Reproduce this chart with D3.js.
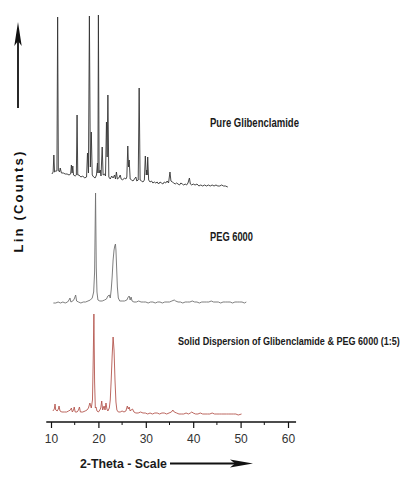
<!DOCTYPE html>
<html>
<head>
<meta charset="utf-8">
<script src="https://cdn.jsdelivr.net/npm/d3@7"></script>
<style>
  html, body { margin: 0; padding: 0; background: #fff; }
  svg { display: block; }
</style>
</head>
<body>
<svg id="chart" width="412" height="479"></svg>
<script>
// ---------------- DATA ----------------
const seriesNames = ["Pure Glibenclamide", "PEG 6000", "Solid Dispersion of Glibenclamide & PEG 6000 (1:5)"];
// vertical stacking offsets (counts) for each pattern
const seriesOffsets = [235, 110, 0];
const xTickValues = [10, 20, 30, 40, 50, 60];
const xMinorTickValues = [15, 25, 35, 45, 55];
const xTitle = "2-Theta - Scale";
const yTitle = "Lin (Counts)";

// [2-theta, counts]
const pureData = [
[10.2,13],[10.45,15],[10.6,32],[10.75,15],[11.0,16],[11.25,16],[11.4,170],[11.55,17],[11.8,15],[11.95,19],[12.2,14],[12.6,14],[13.0,13],[13.4,13],[13.8,12],[14.15,13],[14.3,22],[14.45,14],[14.6,21],[14.75,12],[15.1,11],[15.35,12],[15.5,72],[15.65,12],[15.9,12],[16.3,10],[16.7,11],[17.1,9],[17.5,10],[17.7,34],[17.9,14],[18.1,171],[18.3,20],[18.5,55],[18.7,12],[19.0,10],[19.3,9],[19.6,12],[19.8,24],[19.9,14],[20.0,172],[20.15,14],[20.4,17],[20.55,11],[20.8,40],[21.0,12],[21.3,13],[21.5,11],[21.7,65],[21.85,30],[22.0,92],[22.2,10],[22.5,8],[22.8,11],[23.1,9],[23.4,12],[23.6,8],[23.8,15],[24.0,8],[24.3,9],[24.6,12],[24.8,8],[25.1,7],[25.5,9],[25.8,8],[26.0,10],[26.2,41],[26.35,20],[26.5,27],[26.7,8],[27.0,7],[27.3,6],[27.6,8],[27.9,10],[28.1,6],[28.4,7],[28.6,99],[28.8,7],[29.1,6],[29.4,5],[29.7,7],[29.9,31],[30.1,12],[30.2,17],[30.3,12],[30.4,30],[30.6,7],[30.9,5],[31.2,6],[31.5,4],[31.8,5],[32.1,4],[32.4,5],[32.7,3],[33.0,5],[33.3,4],[33.6,3],[33.9,5],[34.2,4],[34.5,6],[34.8,4],[35.1,15],[35.3,6],[35.6,5],[35.9,4],[36.2,3],[36.5,4],[36.8,3],[37.1,2],[37.4,4],[37.7,3],[38.0,2],[38.3,3],[38.6,2],[38.9,4],[39.2,9],[39.4,3],[39.7,2],[40.0,3],[40.4,2],[40.8,3],[41.2,1],[41.6,2],[42.0,1],[42.4,2],[42.8,1],[43.2,2],[43.6,1],[44.0,2],[44.4,1],[44.8,2],[45.2,1],[45.6,1],[46.0,2],[46.4,1],[46.8,1],[47.3,0]
];

const pegData = [
[10.5,9],[11.0,9],[11.5,10],[12.0,9],[12.5,10],[13.0,9],[13.5,10],[13.8,12],[14.0,14],[14.2,10],[14.6,11],[14.9,13],[15.2,17],[15.4,11],[15.8,10],[16.3,9],[16.8,10],[17.3,10],[17.8,11],[18.3,12],[18.7,14],[19.0,20],[19.2,40],[19.4,119],[19.55,45],[19.7,20],[19.9,12],[20.3,11],[20.8,11],[21.3,12],[21.7,13],[22.0,16],[22.3,17],[22.5,14],[22.7,22],[22.9,35],[23.1,52],[23.3,62],[23.45,66],[23.6,68],[23.7,62],[23.8,50],[24.0,25],[24.2,14],[24.5,11],[25.0,11],[25.5,11],[26.0,12],[26.3,15],[26.5,16],[26.7,12],[26.9,15],[27.1,11],[27.5,10],[28.0,10],[28.5,11],[29.0,10],[29.5,10],[30.0,10],[30.5,9],[31.0,10],[31.5,10],[32.0,9],[32.5,10],[33.0,10],[33.5,9],[34.0,10],[34.5,10],[35.0,10],[35.5,11],[36.0,12],[36.3,11],[36.8,10],[37.3,10],[37.8,9],[38.3,10],[38.8,10],[39.3,10],[39.8,11],[40.3,10],[40.8,10],[41.3,9],[41.8,10],[42.3,10],[42.8,10],[43.3,10],[43.8,11],[44.3,10],[44.8,10],[45.3,10],[45.8,9],[46.3,10],[46.8,10],[47.3,10],[47.8,10],[48.3,9],[48.8,10],[49.3,10],[49.8,10],[50.3,10],[50.8,9],[51.2,10]
];

const solidData = [
[10.4,11],[10.7,13],[10.85,18],[11.0,12],[11.3,11],[11.55,13],[11.7,16],[11.9,11],[12.3,10],[12.8,10],[13.3,10],[13.7,11],[14.1,12],[14.3,14],[14.5,10],[14.75,12],[14.9,15],[15.1,10],[15.5,10],[15.8,12],[16.0,15],[16.2,10],[16.7,10],[17.2,11],[17.6,12],[17.9,14],[18.2,19],[18.5,14],[18.75,22],[18.9,60],[19.05,108],[19.2,40],[19.35,14],[19.5,15],[19.7,11],[20.0,10],[20.3,12],[20.5,14],[20.7,21],[20.9,12],[21.2,16],[21.4,12],[21.6,19],[21.8,13],[22.0,11],[22.3,14],[22.5,22],[22.7,42],[22.9,66],[23.1,85],[23.3,72],[23.5,42],[23.7,20],[23.9,12],[24.2,10],[24.6,10],[25.0,11],[25.4,10],[25.8,11],[26.1,16],[26.3,13],[26.5,15],[26.7,11],[26.9,12],[27.2,13],[27.5,10],[27.9,9],[28.4,9],[28.9,10],[29.4,9],[29.9,9],[30.4,8],[30.9,9],[31.4,8],[31.9,9],[32.4,9],[32.9,8],[33.4,9],[33.9,9],[34.4,8],[34.9,9],[35.4,10],[35.7,12],[36.0,10],[36.5,9],[37.0,8],[37.5,8],[38.0,8],[38.5,9],[39.0,8],[39.4,9],[39.7,10],[40.0,9],[40.5,8],[41.0,8],[41.5,9],[42.0,8],[42.5,8],[43.0,8],[43.5,8],[44.0,9],[44.5,8],[45.0,8],[45.5,8],[46.0,8],[46.5,8],[47.0,8],[47.5,8],[48.0,8],[48.5,8],[49.0,8],[49.5,7],[50.2,8]
];

// ---------------- DRAW ----------------
const svg = d3.select("#chart");
const x = d3.scaleLinear().domain([10, 60]).range([51, 288]);
const y = d3.scaleLinear().domain([0, 420]).range([422, 2]);
const axisY = 422;

const series = [
  { name: seriesNames[0], data: pureData, offset: seriesOffsets[0], color: "#333333" },
  { name: seriesNames[1], data: pegData, offset: seriesOffsets[1], color: "#707070" },
  { name: seriesNames[2], data: solidData, offset: seriesOffsets[2], color: "#b4574f" }
];

series.forEach(s => {
  const line = d3.line().x(d => x(d[0])).y(d => y(d[1] + s.offset));
  svg.append("path").datum(s.data)
    .attr("d", line)
    .attr("fill", "none")
    .attr("stroke", s.color)
    .attr("stroke-width", 0.9)
    .attr("stroke-linejoin", "round");
});

// condensed text: fit the natural text into a target width with a horizontal scale
const narrow = "'Liberation Sans Narrow','Arial Narrow','Liberation Sans',Arial,sans-serif";
function fitText(txt, x0, y0, w, fs, family) {
  const g = svg.append("g");
  const t = g.append("text").attr("x", 0).attr("y", 0)
    .attr("font-family", family).attr("font-weight", "bold")
    .attr("font-size", fs).attr("fill", "#1a1a1a")
    .text(txt);
  const nat = t.node().getComputedTextLength();
  const sx = w / nat;
  g.attr("transform", `translate(${x0},${y0}) scale(${sx},1)`);
}
fitText(seriesNames[0], 210, 127, 89, 12, narrow);
fitText(seriesNames[1], 210, 241, 43, 12, narrow);
fitText(seriesNames[2], 178, 345, 222, 11.5, narrow);

// x axis
const gx = svg.append("g").attr("transform", `translate(0,${axisY})`);
gx.call(d3.axisBottom(x).tickValues(xTickValues).tickSize(6).tickPadding(6).tickFormat(d3.format("d")));
gx.select(".domain").remove();
gx.selectAll(".tick line").attr("stroke", "#111").attr("stroke-width", 1.2);
gx.selectAll(".tick text").attr("font-family", narrow).attr("font-size", 12).attr("fill", "#333");
gx.append("line").attr("x1", x(9)).attr("x2", x(61.7)).attr("y1", 0).attr("y2", 0)
  .attr("stroke", "#111").attr("stroke-width", 1.3);
gx.selectAll(".minor").data(xMinorTickValues).enter().append("line")
  .attr("class", "minor")
  .attr("x1", d => x(d)).attr("x2", d => x(d)).attr("y1", 0).attr("y2", 3)
  .attr("stroke", "#111").attr("stroke-width", 1);

// x title + arrow
fitText(xTitle, 80, 468, 87, 12, "'Liberation Sans',Arial,sans-serif");
svg.append("line").attr("x1", 170).attr("x2", 240).attr("y1", 463.5).attr("y2", 463.5)
  .attr("stroke", "#111").attr("stroke-width", 1.8);
svg.append("path").attr("d", "M253,463.5 L230,459.5 L235,463.5 L230,467.5 Z").attr("fill", "#111");

// y title + arrow
svg.append("text")
  .attr("transform", "translate(23,201) rotate(-90)")
  .attr("text-anchor", "middle")
  .attr("font-family", "'Liberation Sans',Arial,sans-serif").attr("font-weight", "bold")
  .attr("font-size", 13).attr("fill", "#111")
  .attr("letter-spacing", 2.2)
  .text(yTitle);
svg.append("line").attr("x1", 18).attr("x2", 18).attr("y1", 108).attr("y2", 40)
  .attr("stroke", "#111").attr("stroke-width", 1.8);
svg.append("path").attr("d", "M18,22 L14.3,46 L18,41 L21.7,46 Z").attr("fill", "#111");
</script>
</body>
</html>
